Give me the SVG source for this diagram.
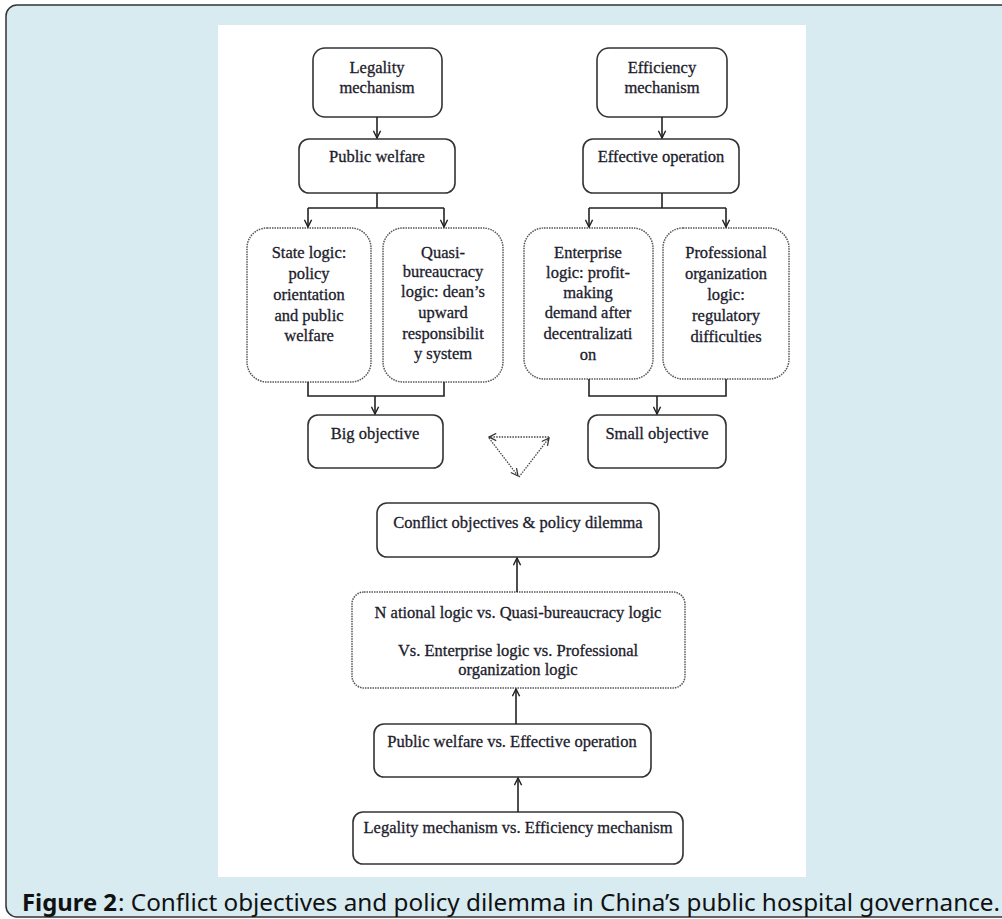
<svg xmlns="http://www.w3.org/2000/svg" width="1002" height="919" viewBox="0 0 1002 919">
<defs>
<style>
.box{fill:#fff;stroke:#333;stroke-width:1.6}
.dbox{fill:#fff;stroke:#555;stroke-width:1.5;stroke-dasharray:1.5 1}
.t{font-family:"Liberation Serif","Times New Roman",serif;font-size:16.5px;fill:#1c1c2c;stroke:#1c1c2c;stroke-width:0.3;text-anchor:middle}
.ln{fill:none;stroke:#222;stroke-width:1.6}
.dl{fill:none;stroke:#444;stroke-width:1.3;stroke-dasharray:1.5 1.2}
.cap{font-family:"Noto Sans","Open Sans","Liberation Sans",sans-serif;font-size:24px;fill:#111}
</style>
<marker id="ah" viewBox="0 0 10 10" refX="9" refY="5" markerWidth="9" markerHeight="9" markerUnits="userSpaceOnUse" orient="auto">
<path d="M1,1 L9,5 L1,9" fill="none" stroke="#222" stroke-width="1.6"/>
</marker>
<marker id="ahd" viewBox="0 0 10 10" refX="9" refY="5" markerWidth="9" markerHeight="9" markerUnits="userSpaceOnUse" orient="auto">
<path d="M1,1 L9,5 L1,9" fill="none" stroke="#333" stroke-width="1.4"/>
</marker>
</defs>
<rect x="6" y="5" width="1020" height="912" rx="11" fill="#d7ebf1" stroke="#333" stroke-width="1.5"/>
<rect x="218" y="25" width="588" height="852" fill="#fff"/>

<g id="legality">
<rect class="box" x="313" y="48" width="129" height="69" rx="12"/>
<text class="t" x="377" y="73">Legality</text>
<text class="t" x="377" y="93">mechanism</text>
</g>
<g id="efficiency">
<rect class="box" x="597" y="48" width="130" height="69" rx="12"/>
<text class="t" x="662" y="73">Efficiency</text>
<text class="t" x="662" y="93">mechanism</text>
</g>
<g id="public-welfare">
<rect class="box" x="299" y="139" width="156" height="54" rx="10"/>
<text class="t" x="377" y="162">Public welfare</text>
</g>
<g id="effective-operation">
<rect class="box" x="583" y="139" width="156" height="54" rx="10"/>
<text class="t" x="661" y="162">Effective operation</text>
</g>
<g id="state-logic">
<rect class="dbox" x="247" y="228" width="124" height="154" rx="20"/>
<text class="t" x="309" y="258">State logic:</text>
<text class="t" x="309" y="279">policy</text>
<text class="t" x="309" y="300">orientation</text>
<text class="t" x="309" y="321">and public</text>
<text class="t" x="309" y="341">welfare</text>
</g>
<g id="quasi-bureaucracy">
<rect class="dbox" x="383" y="228" width="120" height="154" rx="20"/>
<text class="t" x="443" y="258">Quasi-</text>
<text class="t" x="443" y="277">bureaucracy</text>
<text class="t" x="443" y="297">logic: dean’s</text>
<text class="t" x="443" y="318">upward</text>
<text class="t" x="443" y="339">responsibilit</text>
<text class="t" x="443" y="359">y system</text>
</g>
<g id="enterprise-logic">
<rect class="dbox" x="524" y="228" width="129" height="151" rx="20"/>
<text class="t" x="588" y="258">Enterprise</text>
<text class="t" x="588" y="278">logic: profit-</text>
<text class="t" x="588" y="298">making</text>
<text class="t" x="588" y="318">demand after</text>
<text class="t" x="588" y="339">decentralizati</text>
<text class="t" x="588" y="360">on</text>
</g>
<g id="professional-logic">
<rect class="dbox" x="663" y="228" width="126" height="151" rx="20"/>
<text class="t" x="726" y="258">Professional</text>
<text class="t" x="726" y="279">organization</text>
<text class="t" x="726" y="300">logic:</text>
<text class="t" x="726" y="321">regulatory</text>
<text class="t" x="726" y="342">difficulties</text>
</g>
<g id="big-objective">
<rect class="box" x="308" y="415" width="135" height="53" rx="10"/>
<text class="t" x="375" y="439">Big objective</text>
</g>
<g id="small-objective">
<rect class="box" x="588" y="415" width="138" height="53" rx="10"/>
<text class="t" x="657" y="439">Small objective</text>
</g>
<g id="conflict">
<rect class="box" x="377" y="503" width="282" height="54" rx="10"/>
<text class="t" x="518" y="528">Conflict objectives &amp; policy dilemma</text>
</g>
<g id="logics-vs">
<rect class="dbox" x="352" y="592" width="333" height="96" rx="12"/>
<text class="t" x="518" y="618">N ational logic vs. Quasi-bureaucracy logic</text>
<text class="t" x="518" y="656">Vs. Enterprise logic vs. Professional</text>
<text class="t" x="518" y="675">organization logic</text>
</g>
<g id="welfare-vs">
<rect class="box" x="374" y="724" width="277" height="53" rx="10"/>
<text class="t" x="512" y="747">Public welfare vs. Effective operation</text>
</g>
<g id="mechanism-vs">
<rect class="box" x="353" y="812" width="330" height="52" rx="10"/>
<text class="t" x="518" y="833">Legality mechanism vs. Efficiency mechanism</text>
</g>

<g id="connectors">
<path class="ln" d="M377,117 V138" marker-end="url(#ah)"/>
<path class="ln" d="M662,117 V138" marker-end="url(#ah)"/>
<path class="ln" d="M377,193 V208"/>
<path class="ln" d="M308,208 H444"/>
<path class="ln" d="M308,208 V227" marker-end="url(#ah)"/>
<path class="ln" d="M444,208 V227" marker-end="url(#ah)"/>
<path class="ln" d="M662,193 V208"/>
<path class="ln" d="M589,208 H726"/>
<path class="ln" d="M589,208 V227" marker-end="url(#ah)"/>
<path class="ln" d="M726,208 V227" marker-end="url(#ah)"/>
<path class="ln" d="M308,382 V396 H444 V382"/>
<path class="ln" d="M375,396 V414" marker-end="url(#ah)"/>
<path class="ln" d="M589,379 V396 H726 V379"/>
<path class="ln" d="M657,396 V414" marker-end="url(#ah)"/>
<path class="dl" d="M549,437 H489" marker-end="url(#ahd)"/>
<path class="dl" d="M489,438 L518,476" marker-end="url(#ahd)"/>
<path class="dl" d="M519,477 L549,438" marker-end="url(#ahd)"/>
<path class="ln" d="M517,592 V558" marker-end="url(#ah)"/>
<path class="ln" d="M516,724 V689" marker-end="url(#ah)"/>
<path class="ln" d="M518,812 V778" marker-end="url(#ah)"/>
</g>

<g id="caption">
<text class="cap" x="22" y="911" font-weight="bold" textLength="95" lengthAdjust="spacingAndGlyphs">Figure 2</text>
<text class="cap" x="118" y="911" textLength="882" lengthAdjust="spacingAndGlyphs">: Conflict objectives and policy dilemma in China’s public hospital governance.</text>
</g>
</svg>
